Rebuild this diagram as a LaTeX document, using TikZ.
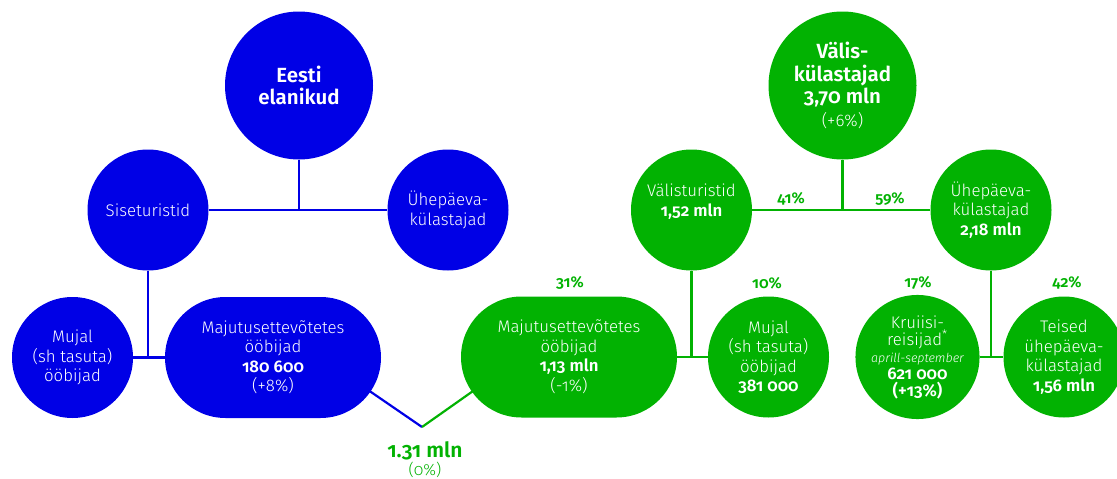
\documentclass[tikz,border=0pt]{standalone}
\usepackage{fontspec}
\setmainfont{Fira Sans}[UprightFont=* Light, BoldFont=* SemiBold, ItalicFont=* Light Italic, BoldItalicFont=* SemiBold Italic, Numbers=OldStyle]
\usetikzlibrary{backgrounds,calc}
\definecolor{eblue}{RGB}{0,0,230}
\definecolor{egreen}{RGB}{2,178,2}
\begin{document}
\begin{tikzpicture}[x=1pt,y=-1pt,
 bub/.style={circle, inner sep=0pt, minimum size=121pt, text=white, align=center, font=\fontsize{16.8}{19.5}\selectfont},
 big/.style={bub, minimum size=148pt, font=\fontsize{20.5}{22.5}\selectfont\bfseries},
 pill/.style={rectangle, rounded corners=60.5pt, minimum width=216pt, minimum height=121pt, inner sep=0pt, text=white, align=center, font=\fontsize{16.8}{19.5}\selectfont},
 bl/.style={fill=eblue}, gr/.style={fill=egreen},
 pct/.style={text=egreen, font=\fontsize{15.5}{16}\selectfont\bfseries, inner sep=0pt},
 lnb/.style={draw=eblue, line width=2.2pt},
 lng/.style={draw=egreen, line width=2.2pt}]
\useasboundingbox (0,0) rectangle (1117,479);
% blue nodes
\node[big,bl] (eesti) at (299,85.5) {Eesti\\elanikud};
\node[bub,bl] (sise) at (148,210) {Siseturistid};
\node[bub,bl] (uheb) at (448,210) {Ühepäeva-\\külastajad};
\node[bub,bl] (mujb) at (72.5,357.5) {Mujal\\(sh tasuta)\\ööbijad};
\node[pill,bl] (majb) at (273,357.5) {Majutusettevõtetes\\ööbijad\\\textbf{180 600}\\(+8\%)};
% green nodes
\node[big,gr] (valis) at (842.5,85.5) {Välis-\\külastajad\\3,70 mln\\{\fontsize{16.8}{19.5}\selectfont\mdseries(+6\%)}};
\node[bub,gr] (valt) at (691.5,210) {Välisturistid\\\textbf{1,52 mln}\\\mbox{}};
\node[bub,gr] (uheg) at (991,210) {Ühepäeva-\\külastajad\\\textbf{2,18 mln}};
\node[pill,gr] (majg) at (569,357) {Majutusettevõtetes\\ööbijad\\\textbf{1,13 mln}\\(-1\%)};
\node[bub,gr] (mujg) at (768.5,357) {Mujal\\(sh tasuta)\\ööbijad\\\textbf{381 000}};
\node[bub,gr,font=\fontsize{16.8}{17}\selectfont] (kru) at (917.5,357) {Kruiisi-\\reisijad\textsuperscript{*}\\{\fontsize{12.5}{17}\selectfont\itshape aprill-september}\\\textbf{621 000}\\\textbf{(+13\%)}};
\node[bub,gr] (teised) at (1064,357) {Teised\\ühepäeva-\\külastajad\\\textbf{1,56 mln}};
% percentages
\node[pct] (p41) at (791,199) {41\%};
\node[pct] (p59) at (890,199) {59\%};
\node[pct] (p31) at (570,283) {31\%};
\node[pct] (p10) at (767,283) {10\%};
\node[pct] (p17) at (918,283) {17\%};
\node[pct] (p42) at (1067,283) {42\%};
% total
\coordinate (V) at (422,427);
\node[text=egreen, inner sep=0pt, font=\fontsize{21}{22}\selectfont\bfseries] (tot) at (425,451) {1.31 mln};
\node[text=egreen, inner sep=0pt, font=\fontsize{16}{17}\selectfont] (totp) at (425,469.5) {(0\%)};
\begin{pgfonlayer}{background}
\draw[lnb] (eesti) -- (eesti |- sise);
\draw[lnb] (sise) -- (uheb);
\draw[lnb] (sise) -- (sise |- majb);
\draw[lnb] (mujb) -- (majb);
\draw[lnb] (V) -- ($(majb.east)+(-60.5,0)$);
\draw[lng] (V) -- ($(majg.west)+(60.5,0)$);
\draw[lng] (valis) -- (valis |- valt);
\draw[lng] (valt) -- (uheg);
\draw[lng] (valt) -- (valt |- majg);
\draw[lng] (mujg) -- (majg);
\draw[lng] (uheg) -- (uheg |- kru);
\draw[lng] (kru) -- (teised);
\end{pgfonlayer}
\end{tikzpicture}
\end{document}
